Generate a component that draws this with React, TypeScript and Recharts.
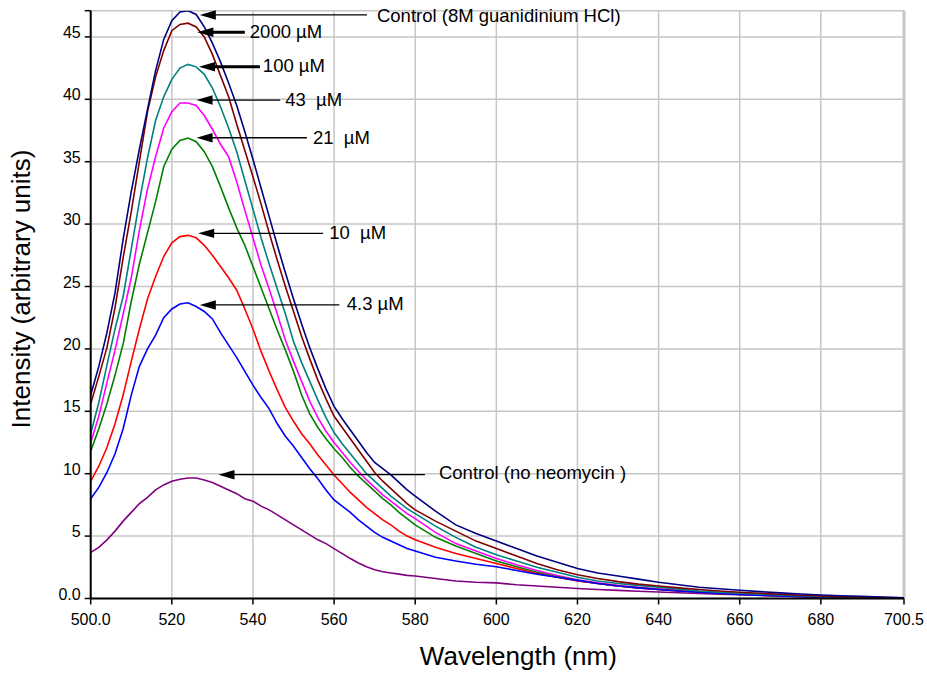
import React from 'react';
import { LineChart, Line, XAxis, YAxis, CartesianGrid, ReferenceLine } from 'recharts';

const FONT = 'Liberation Sans, Arial, sans-serif';

const WAVELENGTH = [
  500, 502, 504, 506, 508, 510, 512, 514, 516, 518, 520, 522, 524, 526, 528, 530, 532, 534, 536, 538,
  540, 542, 544, 546, 548, 550, 552, 554, 556, 558, 560, 562, 564, 566, 568, 570, 572, 574, 576, 578, 580,
  585, 590, 595, 600, 605, 610, 615, 620, 625, 630, 635, 640, 645, 650, 655, 660, 665, 670, 675, 680,
  685, 690, 695, 700.5,
];

const CONTROL_GUANIDINIUM = [
  16.3, 18.6, 21.3, 24.5, 28.8, 32.6, 36.0, 39.2, 42.3, 44.8, 46.3, 47.0, 47.1, 46.8, 45.8, 44.5, 43.0, 41.3, 39.5, 37.4,
  35.2, 32.9, 30.6, 28.3, 26.1, 24.0, 22.0, 20.1, 18.4, 16.8, 15.4, 14.4, 13.5, 12.6, 11.7, 10.9, 10.4, 9.9, 9.3, 8.7, 8.2,
  7.0, 5.9, 5.2, 4.6, 4.0, 3.4, 2.9, 2.4, 2.05, 1.8, 1.55, 1.3, 1.1, 0.9, 0.78, 0.66, 0.55, 0.45, 0.36, 0.28,
  0.22, 0.18, 0.12, 0.05,
];

const NEO_2000 = [
  15.6, 17.8, 20.1, 23.3, 27.3, 31.0, 35.0, 39.0, 41.8, 43.9, 45.5, 46.0, 46.1, 45.8, 45.0, 43.6, 41.9, 40.2, 38.0, 35.9,
  33.8, 31.6, 29.3, 27.1, 25.0, 23.0, 21.0, 19.2, 17.5, 16.0, 14.6, 13.7, 12.8, 11.9, 11.0, 10.1, 9.4, 8.8, 8.2, 7.6, 7.1,
  6.2, 5.4, 4.6, 4.0, 3.4, 2.8, 2.3, 1.9, 1.6, 1.35, 1.15, 1.0, 0.85, 0.72, 0.6, 0.5, 0.42, 0.34, 0.26, 0.2,
  0.15, 0.1, 0.07, 0.05,
];

const NEO_100 = [
  13.2, 15.7, 18.7, 21.6, 24.2, 28.0, 31.8, 35.3, 38.3, 40.2, 41.6, 42.5, 42.8, 42.6, 42.0, 40.9, 39.4, 37.7, 35.8, 33.5,
  31.2, 28.9, 26.8, 24.8, 22.8, 20.6, 18.9, 17.4, 15.9, 14.5, 13.3, 12.4, 11.6, 10.8, 10.0, 9.4, 8.8, 8.2, 7.7, 7.2, 6.8,
  5.8, 4.9, 4.1, 3.5, 3.0, 2.5, 2.1, 1.7, 1.4, 1.2, 1.05, 0.9, 0.75, 0.6, 0.5, 0.42, 0.35, 0.28, 0.22, 0.16,
  0.12, 0.08, 0.05, 0.03,
];

const NEO_43 = [
  12.5, 14.6, 17.3, 19.9, 22.8, 25.7, 29.5, 32.8, 35.4, 37.7, 39.0, 39.7, 39.7, 39.5, 38.7, 37.6, 36.4, 35.4, 33.4, 31.1,
  28.9, 26.7, 24.8, 22.8, 20.7, 19.0, 17.4, 15.8, 14.5, 13.4, 12.5, 11.7, 10.9, 10.2, 9.5, 8.9, 8.3, 7.8, 7.3, 6.8, 6.4,
  5.3, 4.4, 3.8, 3.2, 2.7, 2.25, 1.85, 1.5, 1.25, 1.05, 0.9, 0.78, 0.65, 0.55, 0.45, 0.38, 0.3, 0.24, 0.18, 0.13,
  0.1, 0.07, 0.04, 0.03,
];

const NEO_21 = [
  11.8, 13.6, 15.6, 17.9, 20.4, 23.8, 26.8, 29.3, 31.8, 34.6, 36.0, 36.7, 36.9, 36.6, 35.8, 34.6, 33.0, 31.3, 29.7, 28.3,
  26.6, 24.9, 23.2, 21.5, 19.9, 18.2, 16.3, 14.8, 13.7, 12.8, 12.0, 11.3, 10.5, 9.8, 9.2, 8.6, 8.0, 7.5, 6.9, 6.4, 5.9,
  4.9, 4.2, 3.6, 3.0, 2.55, 2.1, 1.75, 1.45, 1.2, 1.0, 0.85, 0.72, 0.6, 0.5, 0.42, 0.35, 0.28, 0.22, 0.17, 0.12,
  0.09, 0.06, 0.04, 0.02,
];

const NEO_10 = [
  9.4, 10.6, 12.1, 14.0, 16.3, 19.0, 21.6, 24.0, 25.8, 27.4, 28.5, 29.0, 29.1, 28.9, 28.3, 27.5, 26.6, 25.7, 24.7, 23.2,
  21.6, 19.8, 18.2, 16.7, 15.3, 14.2, 13.2, 12.4, 11.5, 10.7, 9.9, 9.2, 8.5, 7.9, 7.3, 6.8, 6.3, 5.9, 5.4, 5.0, 4.7,
  4.1, 3.6, 3.2, 2.8, 2.4, 2.0, 1.7, 1.4, 1.2, 1.0, 0.85, 0.72, 0.6, 0.5, 0.4, 0.33, 0.26, 0.2, 0.15, 0.1,
  0.08, 0.05, 0.03, 0.02,
];

const NEO_4_3 = [
  8.0, 8.9, 10.1, 11.6, 13.6, 16.3, 18.6, 20.0, 21.1, 22.5, 23.2, 23.6, 23.7, 23.4, 23.0, 22.4, 21.3, 20.3, 19.3, 18.2,
  17.1, 16.1, 15.2, 14.0, 13.0, 12.2, 11.3, 10.4, 9.6, 8.7, 7.9, 7.4, 6.9, 6.3, 5.8, 5.3, 4.9, 4.6, 4.3, 4.0, 3.8,
  3.3, 3.0, 2.75, 2.55, 2.25, 1.95, 1.7, 1.45, 1.2, 1.0, 0.85, 0.72, 0.6, 0.5, 0.4, 0.32, 0.25, 0.2, 0.15, 0.1,
  0.07, 0.05, 0.03, 0.02,
];

const CONTROL_NO_NEOMYCIN = [
  3.7, 4.1, 4.7, 5.4, 6.2, 6.9, 7.6, 8.1, 8.7, 9.1, 9.4, 9.55, 9.65, 9.65, 9.5, 9.3, 9.0, 8.7, 8.4, 8.0,
  7.8, 7.4, 7.1, 6.7, 6.3, 5.9, 5.5, 5.1, 4.7, 4.4, 4.0, 3.6, 3.2, 2.85, 2.55, 2.3, 2.15, 2.05, 1.95, 1.85, 1.8,
  1.6, 1.4, 1.3, 1.25, 1.1, 1.0, 0.9, 0.8, 0.72, 0.65, 0.58, 0.52, 0.46, 0.4, 0.35, 0.3, 0.26, 0.22, 0.18, 0.14,
  0.1, 0.07, 0.05, 0.03,
];

const SERIES_KEYS = ['noNeo', 'n43', 'n21', 'n10', 'n4_3', 'n100', 'n2000', 'guan'];
const SERIES_VALUES = [CONTROL_NO_NEOMYCIN, NEO_43, NEO_21, NEO_10, NEO_4_3, NEO_100, NEO_2000, CONTROL_GUANIDINIUM];
const SERIES_COLORS = ['#800080', '#FF00FF', '#008000', '#FF0000', '#0000FF', '#008080', '#800000', '#000080'];

const X_TICKS = [500, 520, 540, 560, 580, 600, 620, 640, 660, 680, 700.5];
const X_TICK_LABELS = ['500.0', '520', '540', '560', '580', '600', '620', '640', '660', '680', '700.5'];
const Y_TICKS = [0, 5, 10, 15, 20, 25, 30, 35, 40, 45, 47.1];
const Y_TICK_LABELS = ['0.0', '5', '10', '15', '20', '25', '30', '35', '40', '45', ''];

// Annotations: arrow tip (wavelength, intensity), tail wavelength, label text
const ANNOT_TEXT = [
  'Control (8M guanidinium HCl)',
  '2000 µM',
  '100 µM',
  '43  µM',
  '21  µM',
  '10  µM',
  '4.3 µM',
  'Control (no neomycin )',
];
const ANNOT_TIP_X = [526.9, 526.3, 526.7, 526.1, 526.1, 526.5, 526.9, 531.5];
const ANNOT_TIP_Y = [46.76, 45.37, 42.61, 39.94, 36.92, 29.26, 23.52, 9.92];
const ANNOT_TAIL_X = [568.1, 538.0, 541.7, 546.7, 553.3, 557.3, 561.3, 582.4];
const ANNOT_BOLD = [false, true, true, false, false, false, false, false];
const ANNOT_GAP = [10, 5, 3, 5, 6, 6, 7.4, 14];
const ANNOT_BASE = [6.7, 6.2, 5.3, 6, 6.3, 6, 5, 4.6];

const rows = WAVELENGTH.map((nm, i) => {
  const r: Record<string, number> = { nm };
  SERIES_KEYS.forEach((k, s) => {
    r[k] = SERIES_VALUES[s][i];
  });
  return r;
});

const XTick = (props: any) => {
  const { x, y, payload } = props;
  const idx = X_TICKS.indexOf(payload.value);
  return (
    <text x={x} y={y} dy="0.71em" textAnchor="middle" fontSize={16} fontFamily={FONT} fill="#000">
      {X_TICK_LABELS[idx]}
    </text>
  );
};

const YTick = (props: any) => {
  const { x, y, payload } = props;
  const idx = Y_TICKS.indexOf(payload.value);
  return (
    <text x={x} y={y - 4.5} dy="0.355em" textAnchor="end" fontSize={16} fontFamily={FONT} fill="#000">
      {Y_TICK_LABELS[idx]}
    </text>
  );
};

const makeArrow = (i: number) => (props: any) => {
  const { x1, y1, x2, y2 } = props;
  const L = 16;
  const W = 4.7;
  const w = ANNOT_BOLD[i] ? 3 : 1.3;
  return (
    <g>
      <line x1={x1 + L - 1} y1={y1} x2={x2} y2={y2} stroke="#000" strokeWidth={w} />
      <polygon points={`${x1},${y1} ${x1 + L},${y1 - W} ${x1 + L},${y1 + W}`} fill="#000" />
      <text
        x={x2 + ANNOT_GAP[i]}
        y={y2 + ANNOT_BASE[i]}
        fontSize={18.5}
        fontFamily={FONT}
        fill="#000"
        style={{ whiteSpace: 'pre' }}
      >
        {ANNOT_TEXT[i]}
      </text>
    </g>
  );
};

const XTitle = (props: any) => {
  const vb = props.viewBox;
  return (
    <text x={vb.x + vb.width / 2 + 21} y={vb.y + 66.5} textAnchor="middle" fontSize={26} fontFamily={FONT} fill="#000">
      Wavelength (nm)
    </text>
  );
};

const YTitle = (props: any) => {
  const vb = props.viewBox;
  const cx = 30;
  const cy = vb.y + vb.height / 2 - 15.6;
  return (
    <text
      x={cx}
      y={cy}
      transform={`rotate(-90, ${cx}, ${cy})`}
      textAnchor="middle"
      fontSize={26}
      fontFamily={FONT}
      fill="#000"
    >
      Intensity (arbitrary units)
    </text>
  );
};

export default function App() {
  return (
    <div style={{ position: 'absolute', left: 0, top: 0, width: 927, height: 673, background: '#fff' }}>
      <LineChart width={927} height={673} data={rows} margin={{ top: 10.7, right: 23, bottom: 0, left: 0 }}>
        <CartesianGrid stroke="#c6c6c6" strokeWidth={1.5} />
        <ReferenceLine x={700.5} stroke="#c6c6c6" strokeWidth={3} />
        <XAxis
          dataKey="nm"
          type="number"
          domain={[500, 700.5]}
          ticks={X_TICKS}
          interval={0}
          allowDataOverflow
          height={74.5}
          tickSize={6}
          tickMargin={9}
          tick={<XTick />}
          axisLine={{ stroke: '#000', strokeWidth: 2 }}
          tickLine={{ stroke: '#000', strokeWidth: 1.5 }}
          label={XTitle}
        />
        <YAxis
          type="number"
          domain={[0, 47.1]}
          ticks={Y_TICKS}
          interval={0}
          allowDataOverflow
          width={90.7}
          tickSize={6}
          tickMargin={4}
          tick={<YTick />}
          axisLine={{ stroke: '#000', strokeWidth: 2 }}
          tickLine={{ stroke: '#000', strokeWidth: 1.5 }}
          label={YTitle}
        />
        {SERIES_KEYS.map((k, s) => (
          <Line
            key={k}
            dataKey={k}
            type="linear"
            stroke={SERIES_COLORS[s]}
            strokeWidth={1.6}
            dot={false}
            activeDot={false}
            isAnimationActive={false}
          />
        ))}
        {ANNOT_TEXT.map((t, i) => (
          <ReferenceLine
            key={t}
            segment={[
              { x: ANNOT_TIP_X[i], y: ANNOT_TIP_Y[i] },
              { x: ANNOT_TAIL_X[i], y: ANNOT_TIP_Y[i] },
            ]}
            ifOverflow="visible"
            shape={makeArrow(i)}
          />
        ))}
      </LineChart>
    </div>
  );
}
